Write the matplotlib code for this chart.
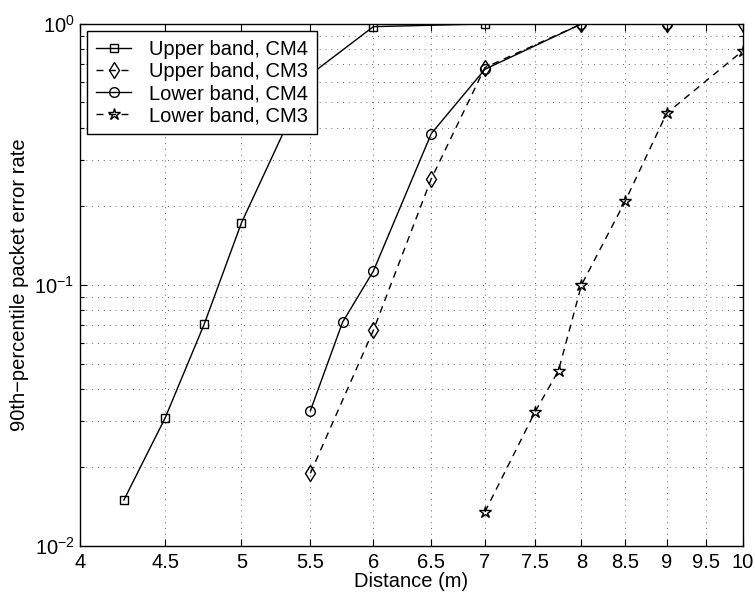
import numpy as np
import matplotlib
matplotlib.use("Agg")
import matplotlib.pyplot as plt
from matplotlib.ticker import FixedLocator, FixedFormatter, NullLocator, LogLocator

plt.rcParams['font.family'] = ['Liberation Sans', 'DejaVu Sans']
plt.rcParams['mathtext.fontset'] = 'custom'
plt.rcParams['mathtext.rm'] = 'Liberation Sans'
plt.rcParams['mathtext.it'] = 'Liberation Sans:italic'

# values
up_cm4_x = [4.25, 4.5, 4.75, 5.0, 5.5, 6.0, 7.0]
up_cm4_y = [0.015, 0.031, 0.071, 0.173, 0.64, 0.976, 1.0]
up_cm3_x = [5.5, 6.0, 6.5, 7.0, 8.0, 9.0, 10.0]
up_cm3_y = [0.019, 0.067, 0.255, 0.68, 1.0, 1.0, 1.0]
lo_cm4_x = [5.5, 5.75, 6.0, 6.5, 7.0, 8.0, 9.0]
lo_cm4_y = [0.033, 0.072, 0.113, 0.38, 0.67, 1.0, 1.0]
lo_cm3_x = [7.0, 7.5, 7.75, 8.0, 8.5, 9.0, 10.0]
lo_cm3_y = [0.0135, 0.0325, 0.047, 0.1, 0.21, 0.455, 0.79]

xtick_vals = [4, 4.5, 5, 5.5, 6, 6.5, 7, 7.5, 8, 8.5, 9, 9.5, 10]
xtick_labels = ['4', '4.5', '5', '5.5', '6', '6.5', '7', '7.5', '8', '8.5', '9', '9.5', '10']

FS = 14.5

fig = plt.figure(figsize=(7.55, 5.98), dpi=100)
ax = fig.add_axes([0.106, 0.087, 0.878, 0.873])

kw = dict(color='k', lw=1.0, markerfacecolor='none', markeredgecolor='k', markeredgewidth=1.0)
ax.plot(up_cm4_x, up_cm4_y, '-', marker='s', ms=6, label='Upper band, CM4', **kw)
ax.plot(up_cm3_x, up_cm3_y, '--', marker='d', ms=8, label='Upper band, CM3', dashes=(5, 4), **kw)
ax.plot(lo_cm4_x, lo_cm4_y, '-', marker='o', ms=7, label='Lower band, CM4', **kw)
ax.plot(lo_cm3_x, lo_cm3_y, '--', marker='*', ms=9, label='Lower band, CM3', dashes=(5, 4), **kw)

ax.set_xscale('log')
ax.set_yscale('log')
ax.set_xlim(4, 10)
ax.set_ylim(1e-2, 1)

ax.xaxis.set_major_locator(FixedLocator(xtick_vals))
ax.xaxis.set_major_formatter(FixedFormatter(xtick_labels))
ax.xaxis.set_minor_locator(NullLocator())
ax.yaxis.set_major_locator(LogLocator(base=10))
ax.yaxis.set_minor_locator(LogLocator(base=10, subs=np.arange(2, 10)))

ax.tick_params(which='both', direction='in', top=True, right=True, labelsize=FS)
ax.tick_params(which='major', length=5, width=0.8)
ax.tick_params(which='minor', length=3, width=0.8)
ax.tick_params(axis='x', pad=5)
ax.tick_params(axis='y', pad=4)

ax.grid(True, which='major', axis='both', color='0.4', lw=0.7, linestyle=(0, (1, 5)))
ax.grid(True, which='minor', axis='y', color='0.4', lw=0.7, linestyle=(0, (1, 5)))

for s in ax.spines.values():
    s.set_linewidth(1.0)

ax.set_xlabel('Distance (m)', fontsize=FS, labelpad=0)
ax.set_ylabel('90th\u2212percentile packet error rate', fontsize=FS, labelpad=4)

leg = ax.legend(loc='upper left', fontsize=FS, fancybox=False, framealpha=1,
                edgecolor='k', handlelength=1.75, handletextpad=0.85,
                labelspacing=0.15, borderpad=0.45, borderaxespad=0.35)
leg.get_frame().set_linewidth(1.0)
leg.set_zorder(5)

plt.savefig('out.png', dpi=100)
